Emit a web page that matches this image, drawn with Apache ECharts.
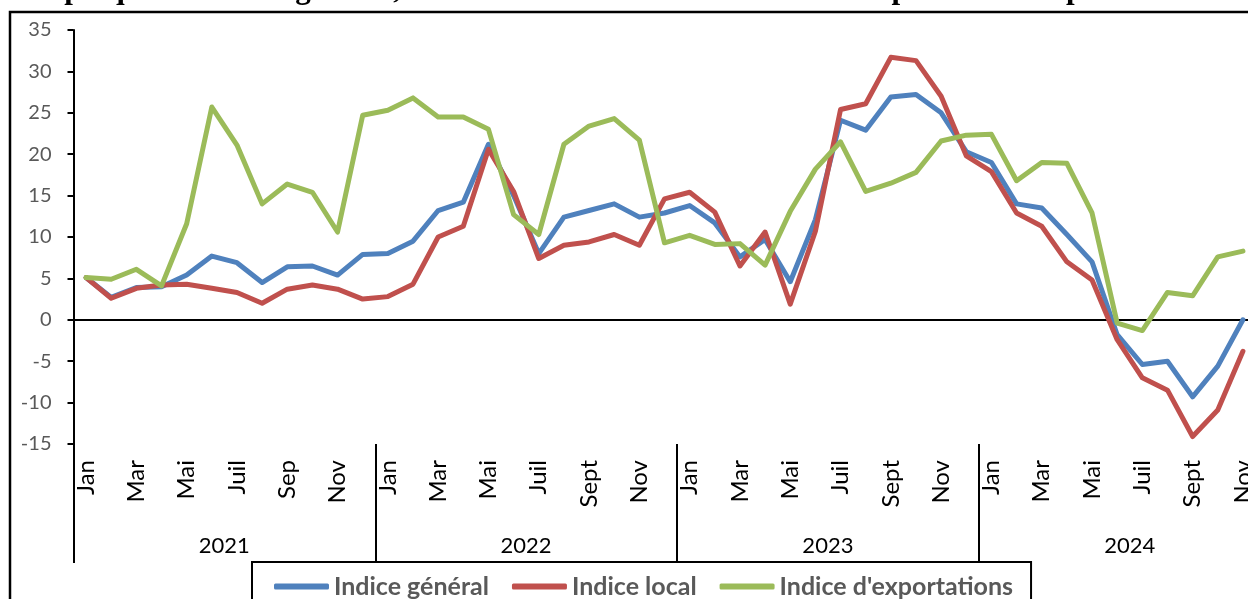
<!DOCTYPE html>
<html>
<head>
<meta charset="utf-8">
<script src="https://cdn.jsdelivr.net/npm/echarts@6/dist/echarts.min.js"></script>
<style>
html,body{margin:0;padding:0;background:#fff;overflow:hidden;width:1248px;height:599px;}
#chart{width:1262px;height:599px;}
</style>
</head>
<body>
<div id="chart"></div>
<script>
const monthLabels = [
  'Jan','Fév','Mar','Avr','Mai','Juin','Juil','Août','Sep','Oct','Nov','Déc',
  'Jan','Fév','Mar','Avr','Mai','Juin','Juil','Août','Sept','Oct','Nov','Déc',
  'Jan','Fév','Mar','Avr','Mai','Juin','Juil','Août','Sept','Oct','Nov','Déc',
  'Jan','Fév','Mar','Avr','Mai','Juin','Juil','Août','Sept','Oct','Nov'
];
const yearOfMonth = [
  '2021','2021','2021','2021','2021','2021','2021','2021','2021','2021','2021','2021',
  '2022','2022','2022','2022','2022','2022','2022','2022','2022','2022','2022','2022',
  '2023','2023','2023','2023','2023','2023','2023','2023','2023','2023','2023','2023',
  '2024','2024','2024','2024','2024','2024','2024','2024','2024','2024','2024'
];
const yearLabelIndex = [5, 17, 29, 41];
const yTicks = { min: -15, max: 35, step: 5 };

const indiceGeneral = [
  5.1, 2.7, 3.9, 4.0, 5.4, 7.7, 6.9, 4.5, 6.4, 6.5, 5.4, 7.9,
  8.0, 9.5, 13.2, 14.2, 21.2, 15.0, 8.0, 12.4, 13.2, 14.0, 12.4, 12.9,
  13.8, 11.7, 7.6, 9.7, 4.6, 12.1, 24.1, 22.9, 26.9, 27.2, 25.0, 20.3,
  19.0, 14.0, 13.5, 10.3, 7.0, -1.8, -5.4, -5.0, -9.3, -5.6, 0.0
];
const indiceLocal = [
  5.1, 2.6, 3.8, 4.2, 4.3, 3.8, 3.3, 2.0, 3.7, 4.2, 3.7, 2.5,
  2.8, 4.3, 10.0, 11.3, 20.6, 15.5, 7.4, 9.0, 9.4, 10.3, 9.0, 14.6,
  15.4, 13.0, 6.5, 10.6, 1.9, 10.7, 25.4, 26.1, 31.7, 31.3, 27.0, 19.8,
  17.9, 12.9, 11.3, 7.0, 4.8, -2.4, -7.0, -8.5, -14.1, -10.9, -3.8
];
const indiceExportations = [
  5.1, 4.9, 6.1, 4.1, 11.6, 25.7, 21.1, 14.0, 16.4, 15.4, 10.6, 24.7,
  25.3, 26.8, 24.5, 24.5, 23.0, 12.7, 10.3, 21.2, 23.4, 24.3, 21.7, 9.3,
  10.2, 9.1, 9.2, 6.6, 13.1, 18.2, 21.5, 15.5, 16.5, 17.8, 21.6, 22.3,
  22.4, 16.8, 19.0, 18.9, 12.9, -0.4, -1.3, 3.3, 2.9, 7.6, 8.3
];
const seriesNames = ['Indice général', 'Indice local', "Indice d'exportations"];
const titleText = "Graphique 1 : Indice général, Produits destinés au marché local et produits d'exportation";

const chart = echarts.init(document.getElementById('chart'), null, {renderer: 'canvas'});
const lineW = 5;
function mkSeries(name, data, color, extra) {
  return Object.assign({
    name: name, type: 'line', data: data, xAxisIndex: 0,
    showSymbol: false, symbol: 'none', animation: false,
    lineStyle: {color: color, width: lineW, cap: 'round', join: 'round'},
    itemStyle: {color: color}
  }, extra || {});
}
chart.setOption({
  animation: false,
  backgroundColor: '#fff',
  title: {
    text: titleText, left: 6, top: -31,
    textStyle: {fontFamily: 'Liberation Serif', fontWeight: 'bold', fontSize: 31, color: '#000'}
  },
  graphic: [{
    type: 'rect', shape: {x: 10, y: 12, width: 1400, height: 800},
    style: {fill: 'none', stroke: '#000', lineWidth: 2.5}, silent: true, z: -1
  }],
  grid: {left: 73.5, top: 30, right: 6.5, bottom: 155, containLabel: false},
  legend: {
    data: seriesNames, left: 252, top: 562,
    padding: [12, 18, 30, 22], itemGap: 23, itemWidth: 55, itemHeight: 6,
    icon: 'roundRect', borderColor: '#000', borderWidth: 2,
    textStyle: {fontFamily: 'Lato', fontWeight: 'bold', fontSize: 25, color: '#595959'}
  },
  xAxis: [{
    type: 'category', data: monthLabels, position: 'bottom', boundaryGap: true,
    axisLine: {show: false}, axisTick: {show: false}, splitLine: {show: false},
    axisLabel: {interval: 1, rotate: 90, margin: 16, color: '#000', fontFamily: 'Lato', fontSize: 24}
  }, {
    type: 'category', data: yearOfMonth, position: 'bottom', boundaryGap: true,
    axisLine: {show: false},
    axisTick: {show: true, length: 119, interval: function (i) { return i % 12 === 0; },
      lineStyle: {color: '#000', width: 2}},
    axisLabel: {
      interval: function (i) { return yearLabelIndex.indexOf(i) >= 0; },
      margin: 91, padding: [0, 0, 0, 25], color: '#000', fontFamily: 'Lato', fontSize: 22
    },
    splitLine: {show: false}
  }],
  yAxis: {
    type: 'value', min: yTicks.min, max: yTicks.max, interval: yTicks.step,
    axisLine: {show: true, lineStyle: {color: '#000', width: 2}},
    axisTick: {show: true, length: 6, lineStyle: {color: '#000', width: 2}},
    splitLine: {show: false},
    axisLabel: {margin: 22, color: '#595959', fontFamily: 'Lato', fontSize: 20}
  },
  series: [
    mkSeries(seriesNames[0], indiceGeneral, '#4F81BD', {
      markLine: {
        silent: true, symbol: 'none', animation: false, label: {show: false},
        lineStyle: {color: '#000', width: 2, type: 'solid'},
        data: [{yAxis: 0}], z: 1
      }
    }),
    mkSeries(seriesNames[1], indiceLocal, '#C0504D'),
    mkSeries(seriesNames[2], indiceExportations, '#9BBB59')
  ]
});
</script>
</body>
</html>
